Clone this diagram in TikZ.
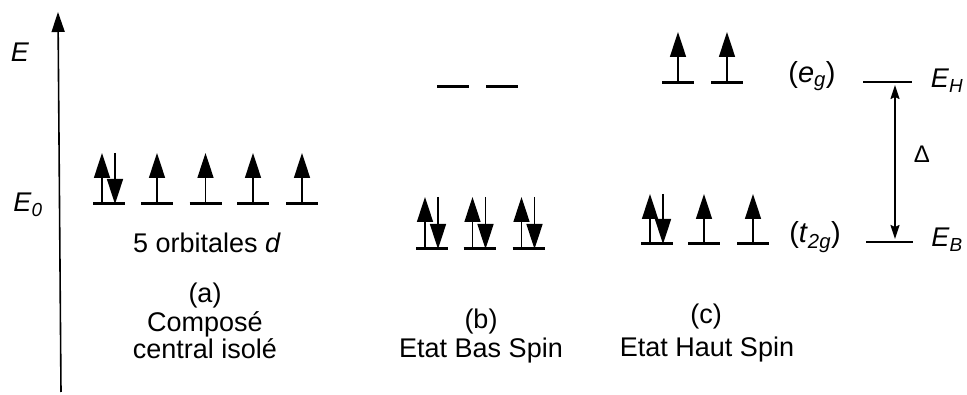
\documentclass[tikz,border=0pt]{standalone}
\usepackage{fontspec}
\setmainfont{Liberation Sans}
\usetikzlibrary{arrows.meta}
\newcommand\levelat[2]{\draw[level] (#1-16,#2) -- (#1+16,#2);}
\newcommand\spinup[3]{\draw[spin] (#1,#2) -- (#1,#3);}
\newcommand\spinpair[3]{\draw[spin] (#1-7,#2) -- (#1-7,#3); \draw[spin] (#1+6,#3) -- (#1+6,#2);}
\begin{document}
\begin{tikzpicture}[x=1pt,y=-1pt,
  level/.style={line width=3pt},
  thinlevel/.style={line width=1.5pt},
  spin/.style={line width=1.6pt,-{Triangle[length=25pt,width=16pt]}},
  axis/.style={line width=1.6pt,-{Triangle[length=20pt,width=13pt]}},
  gap/.style={line width=1.6pt,{Stealth[length=14pt,width=9pt,inset=2pt]}-{Stealth[length=14pt,width=9pt,inset=2pt]}},
  lbl/.style={inner sep=0pt,anchor=base,font=\fontsize{27}{32}\selectfont},
  big/.style={inner sep=0pt,anchor=base,font=\fontsize{29}{34}\selectfont},
  small/.style={inner sep=0pt,anchor=base,font=\fontsize{24}{28}\selectfont},
  nodepth/.style={text depth=0pt},
]
\useasboundingbox (0,0) rectangle (967,395);
% axis
\coordinate (axb) at (61,392);
\coordinate (axt) at (58,12);
\draw[axis] (axb) -- (axt);
\node[lbl] (lE) at (20,62) {\textit{E}};
\node[lbl] (lE0) at (28,212) {\textit{E}\textsubscript{\textit{0}}};
% (a)
\levelat{109}{204}\levelat{157}{204}\levelat{205.5}{204}\levelat{253}{204}\levelat{302}{204}
\spinpair{109}{204}{153}
\spinup{157}{204}{153}\spinup{205.5}{204}{153}\spinup{253}{204}{153}\spinup{302}{204}{153}
\node[lbl] (orb) at (207,253) {5 orbitales \textit{d}};
\node[lbl,nodepth] (la) at (205,303) {(a)};
\node[lbl,nodepth] (la1) at (205,332) {Composé};
\node[lbl] (la2) at (205,359) {central isolé};
% (b)
\levelat{453}{87}\levelat{502}{87}
\levelat{432}{249}\levelat{479.5}{249}\levelat{528.5}{249}
\spinpair{432}{249}{197}\spinpair{479.5}{249}{197}\spinpair{528.5}{249}{197}
\node[lbl,nodepth] (lb) at (481,329) {(b)};
\node[lbl] (lb1) at (481,358) {Etat Bas Spin};
% (c)
\levelat{678}{83}\levelat{727}{83}
\spinup{678}{83}{32}\spinup{727}{83}{32}
\levelat{657}{244}\levelat{704}{244}\levelat{753}{244}
\spinpair{657}{244}{194}\spinup{704}{244}{194}\spinup{753}{244}{194}
\node[big] (eg) at (812,83) {(\textit{e}\textsubscript{\textit{g}})};
\node[big] (t2g) at (815,243) {(\textit{t}\textsubscript{\textit{2g}})};
\node[lbl,nodepth] (lc) at (706,324) {(c)};
\node[lbl] (lc1) at (707,357) {Etat Haut Spin};
% E_H, E_B
\coordinate (hl) at (863,82); \coordinate (hr) at (912,82);
\coordinate (bl) at (866,242); \coordinate (br) at (913,242);
\draw[thinlevel] (hl) -- (hr);
\draw[thinlevel] (bl) -- (br);
\node[lbl] (lEH) at (947,88) {\textit{E}\textsubscript{\textit{H}}};
\node[lbl] (lEB) at (947,247) {\textit{E}\textsubscript{\textit{B}}};
\coordinate (dh) at (895,85); \coordinate (db) at (895,239);
\draw[gap] (dh) -- (db);
\node[small] (delta) at (922,163) {Δ};
\end{tikzpicture}
\end{document}
